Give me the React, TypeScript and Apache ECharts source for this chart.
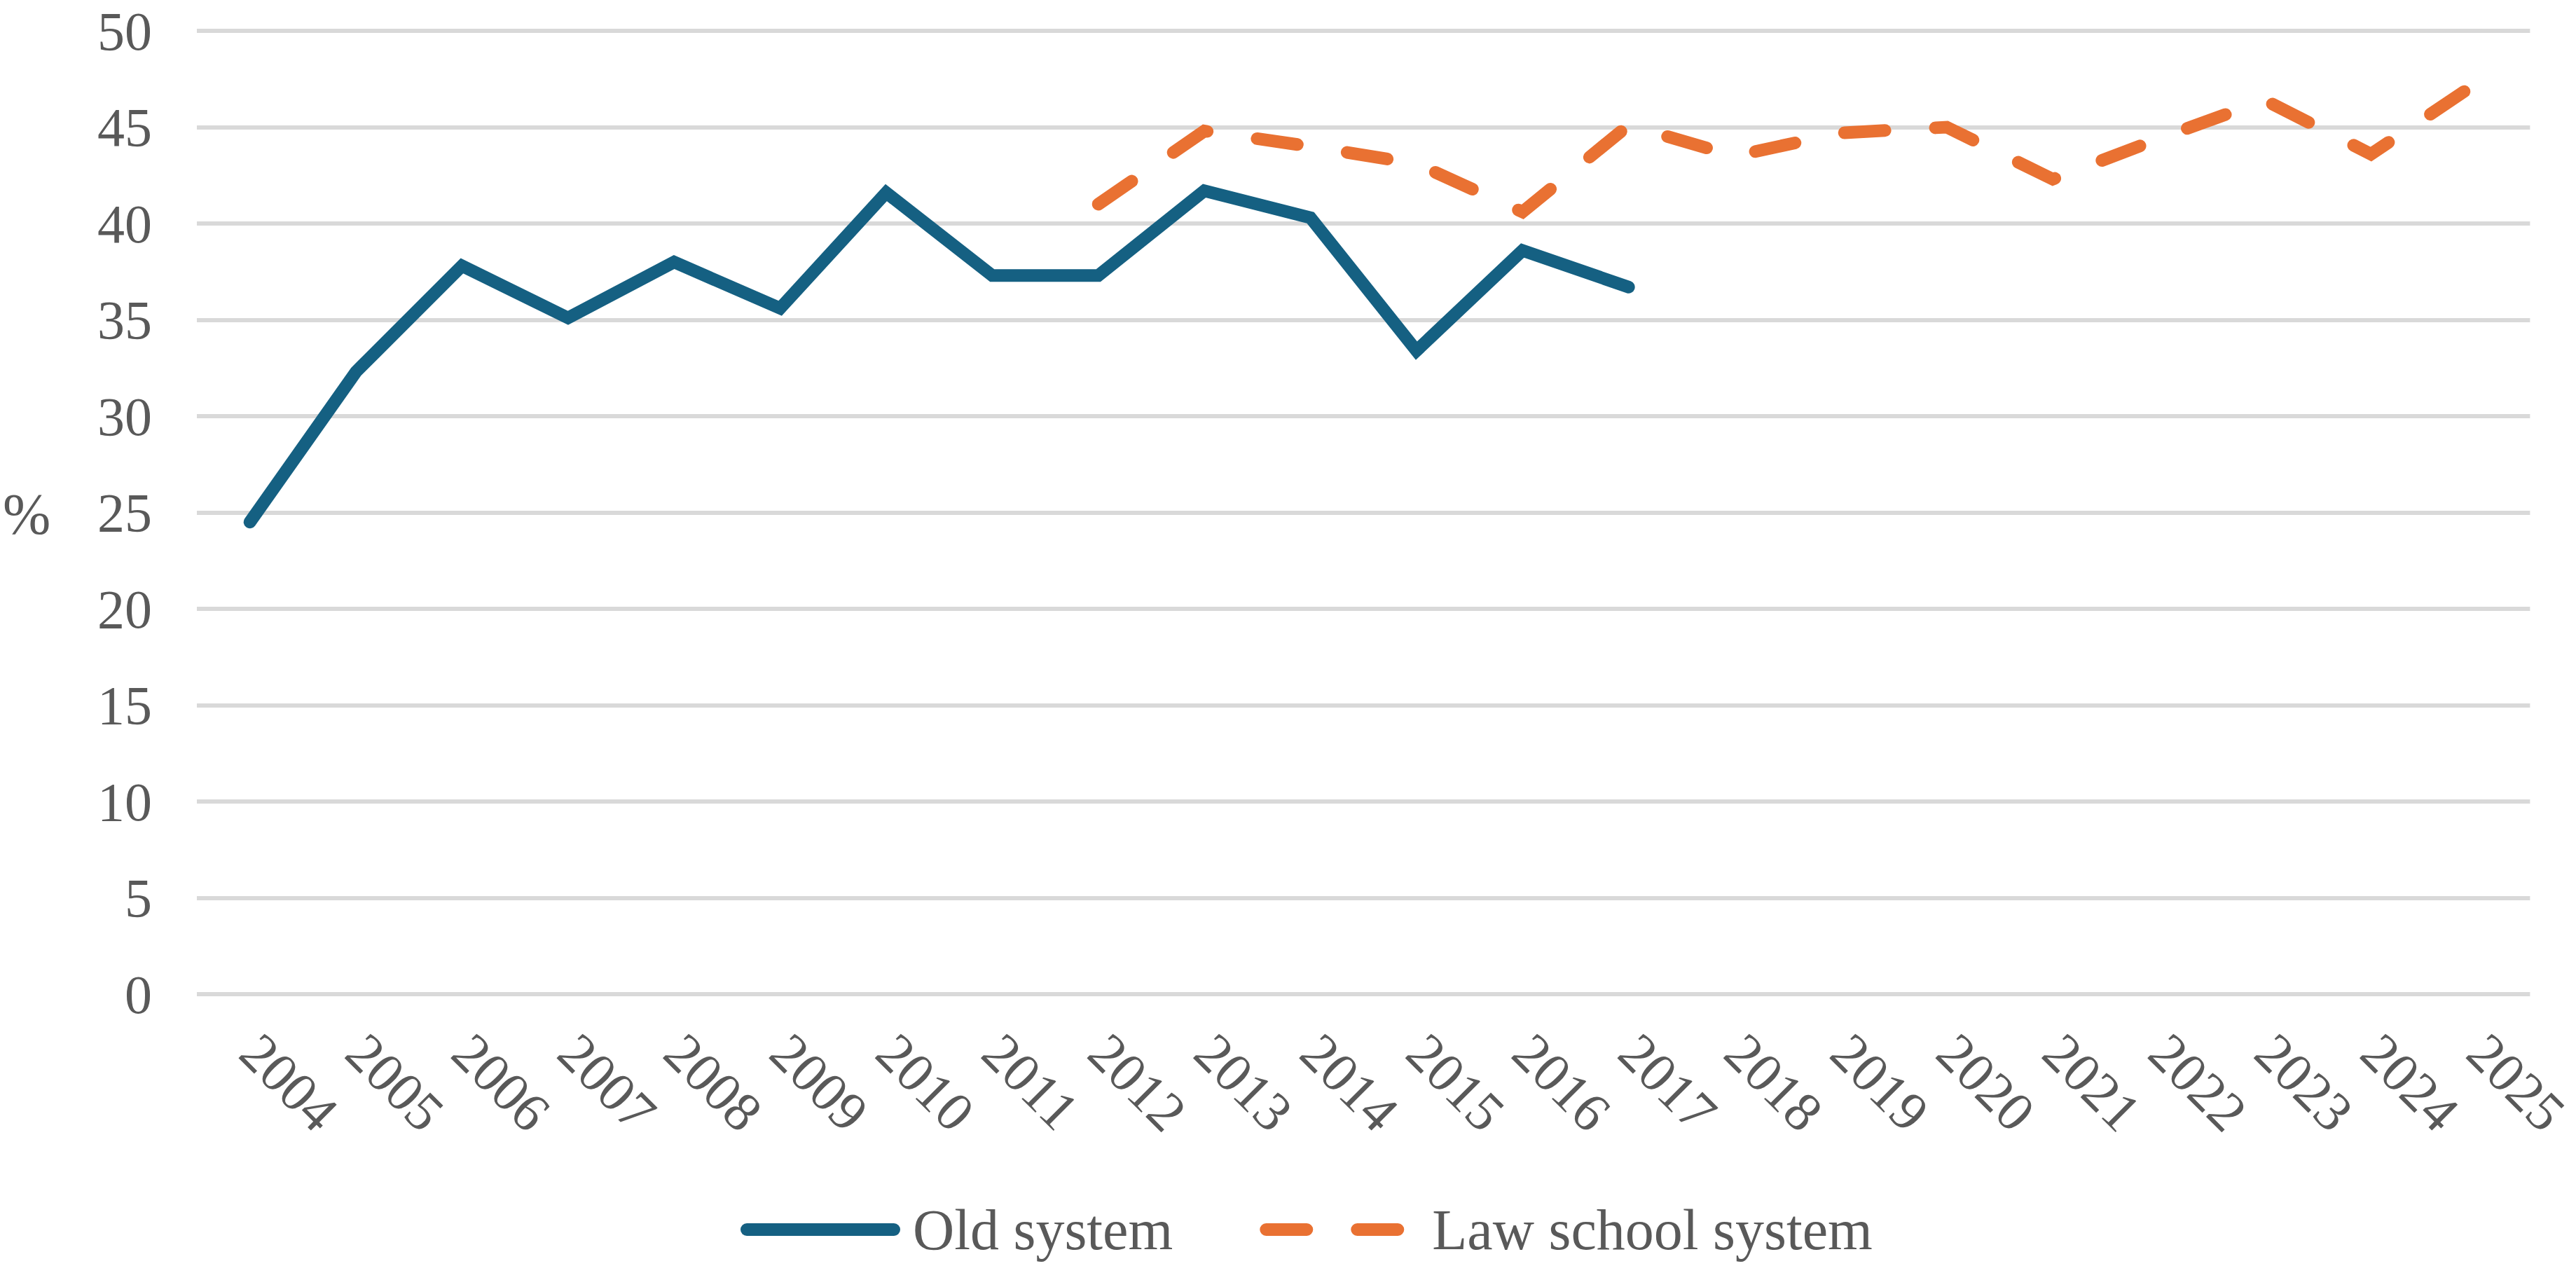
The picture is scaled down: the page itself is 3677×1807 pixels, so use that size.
import * as echarts from 'echarts';
import { useEffect, useRef } from 'react';

const years = [
  '2004', '2005', '2006', '2007', '2008', '2009', '2010', '2011', '2012', '2013', '2014',
  '2015', '2016', '2017', '2018', '2019', '2020', '2021', '2022', '2023', '2024', '2025',
];
// 2004–2017
const oldSystem = [24.5, 32.3, 37.8, 35.1, 38.0, 35.6, 41.6, 37.3, 37.3, 41.7, 40.3, 33.4, 38.6, 36.7];
// 2012–2025
const lawSchool = [41.0, 44.8, 44.0, 43.1, 40.6, 45.1, 43.5, 44.7, 45.0, 42.3, 44.4, 46.4, 43.6, 47.3];

const FONT = '"Liberation Serif", "Times New Roman", serif';
const TEXT = '#595959';
const BLUE = '#156082';
const ORANGE = '#E97132';
const DASH = [58, 72];

export default function App() {
  const elRef = useRef<HTMLDivElement | null>(null);

  useEffect(() => {
    if (!elRef.current) return;
    const chart = echarts.init(elRef.current, undefined, { renderer: 'svg' });

    const oldData = years.map((_, i) => (i < oldSystem.length ? oldSystem[i] : null));
    const lawStart = years.indexOf('2012');
    const lawData = years.map((_, i) => (i >= lawStart ? lawSchool[i - lawStart] : null));

    chart.setOption({
      animation: false,
      grid: { left: 281, right: 45, top: 44, bottom: 388 },
      graphic: [
        {
          type: 'text',
          x: 4,
          y: 733,
          style: { text: '%', fontSize: 82, fontFamily: FONT, fill: TEXT, verticalAlign: 'middle' },
        },
      ],
      legend: {
        left: 1057,
        top: 1714,
        padding: 0,
        itemWidth: 210,
        itemHeight: 19,
        itemGap: 124,
        itemStyle: { opacity: 0 },
        textStyle: { fontSize: 82, fontFamily: FONT, color: TEXT, padding: [0, 0, 0, 22] },
        data: [
          {
            name: 'Old system',
            lineStyle: { color: BLUE, width: 18, cap: 'round', type: 'solid' },
          },
          {
            name: 'Law school system',
            lineStyle: { color: ORANGE, width: 18, cap: 'round', type: DASH },
          },
        ],
      },
      xAxis: {
        type: 'category',
        data: years,
        boundaryGap: true,
        axisLine: { show: false },
        axisTick: { show: false },
        axisLabel: {
          rotate: -45,
          interval: 0,
          margin: 70,
          fontSize: 79,
          fontFamily: FONT,
          color: TEXT,
        },
      },
      yAxis: {
        type: 'value',
        min: 0,
        max: 50,
        interval: 5,
        axisLine: { show: false },
        axisTick: { show: false },
        axisLabel: { margin: 64, fontSize: 78, lineHeight: 70, fontFamily: FONT, color: TEXT },
        splitLine: { lineStyle: { color: '#D9D9D9', width: 6 } },
      },
      series: [
        {
          name: 'Old system',
          type: 'line',
          data: oldData,
          symbol: 'none',
          lineStyle: { color: BLUE, width: 18, cap: 'round', join: 'miter' },
          itemStyle: { color: BLUE },
        },
        {
          name: 'Law school system',
          type: 'line',
          data: lawData,
          symbol: 'none',
          lineStyle: { color: ORANGE, width: 18, type: DASH, cap: 'round', join: 'miter' },
          itemStyle: { color: ORANGE },
        },
      ],
    });

    return () => chart.dispose();
  }, []);

  return <div ref={elRef} style={{ position: 'fixed', left: 0, top: 0, width: '100vw', height: '100vh' }} />;
}
